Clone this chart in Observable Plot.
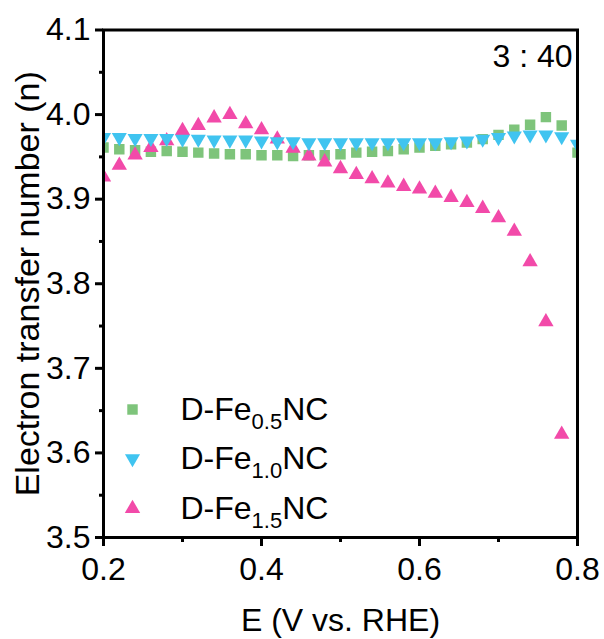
<!DOCTYPE html>
<html>
<head>
<meta charset="utf-8">
<script src="https://cdn.jsdelivr.net/npm/d3@7"></script>
<script src="https://cdn.jsdelivr.net/npm/@observablehq/plot@0.6"></script>
<style>
  body { margin: 0; background: #fff; }
  #chart svg { display: block; }
</style>
</head>
<body>
<div id="chart"></div>
<script>
// ---- data ----
const potential = [0.20, 0.22, 0.24, 0.26, 0.28, 0.30, 0.32, 0.34, 0.36, 0.38,
                   0.40, 0.42, 0.44, 0.46, 0.48, 0.50, 0.52, 0.54, 0.56, 0.58,
                   0.60, 0.62, 0.64, 0.66, 0.68, 0.70, 0.72, 0.74, 0.76, 0.78, 0.80];
const nFe05 = [3.961, 3.959, 3.958, 3.956, 3.957, 3.956, 3.955, 3.954, 3.953, 3.953,
               3.952, 3.952, 3.951, 3.952, 3.952, 3.953, 3.955, 3.956, 3.957, 3.959,
               3.961, 3.963, 3.965, 3.967, 3.971, 3.976, 3.982, 3.988, 3.997, 3.987, 3.955];
const nFe10 = [3.973, 3.973, 3.972, 3.972, 3.972, 3.971, 3.971, 3.970, 3.970, 3.970,
               3.969, 3.968, 3.968, 3.967, 3.967, 3.967, 3.967, 3.967, 3.967, 3.967,
               3.967, 3.967, 3.968, 3.969, 3.971, 3.973, 3.975, 3.976, 3.976, 3.974, 3.965];
const nFe15 = [3.926, 3.940, 3.952, 3.961, 3.969, 3.981, 3.987, 3.996, 4.000, 3.989,
               3.982, 3.971, 3.960, 3.951, 3.944, 3.936, 3.929, 3.924, 3.919, 3.915,
               3.912, 3.907, 3.902, 3.896, 3.889, 3.878, 3.862, 3.826, 3.755, 3.622];

const legendPrefix = "D-Fe";
const legendSubs = ["0.5", "1.0", "1.5"];
const legendSuffix = "NC";
const seriesColors = ["#7ec47b", "#40c4f0", "#f24aa9"];

const xTicksMajor = [0.2, 0.4, 0.6, 0.8];
const xTicksMinor = [0.3, 0.5, 0.7];
const yTicksMajor = [3.5, 3.6, 3.7, 3.8, 3.9, 4.0, 4.1];
const yTicksMinor = [3.55, 3.65, 3.75, 3.85, 3.95, 4.05];
const xLabel = "E (V vs. RHE)";
const yLabel = "Electron transfer number (n)";
const annotation = "3 : 40";

// ---- tables ----
const rows05 = nFe05.map((n, i) => ({E: potential[i], n}));
const rows10 = nFe10.map((n, i) => ({E: potential[i], n}));
const rows15 = nFe15.map((n, i) => ({E: potential[i], n}));

// downward triangle symbol
const triangleDown = {
  draw(context, size) {
    const s3 = Math.sqrt(3);
    const y = -Math.sqrt(size / (3 * s3));
    context.moveTo(0, -2 * y);
    context.lineTo(s3 * y, y);
    context.lineTo(-s3 * y, y);
    context.closePath();
  }
};
const symbols = ["square", triangleDown, "triangle"];
const radii = [5.9, 5.6, 5.7];

const legendRows = [-128, -79, -29];
const legendMarks = [];
legendSubs.forEach((sub, i) => {
  legendMarks.push(Plot.dot([0], {frameAnchor: "bottom-left", dx: 29, dy: legendRows[i],
    symbol: symbols[i], fill: seriesColors[i], r: radii[i]}));
  legendMarks.push(Plot.text([legendPrefix + sub + legendSuffix], {frameAnchor: "bottom-left",
    dx: 77, dy: legendRows[i], textAnchor: "start", lineAnchor: "middle", fontSize: 32,
    text: d => d, fill: "#000"}));
});

const chart = Plot.plot({
  width: 604,
  height: 639,
  marginLeft: 103,
  marginRight: 27,
  marginTop: 29.5,
  marginBottom: 102,
  x: {domain: [0.2, 0.8]},
  y: {domain: [3.5, 4.1]},
  style: {fontFamily: "'Liberation Sans', Arial, sans-serif", fontSize: "32px", color: "#000", background: "#fff"},
  marks: [
    Plot.axisX({ticks: xTicksMajor, tickSize: 9, tickPadding: 11, tickFormat: d => d.toFixed(1),
      fontSize: 32, stroke: "#000", strokeWidth: 3, label: xLabel, labelAnchor: "center", labelOffset: 93, labelArrow: "none"}),
    Plot.axisX({ticks: xTicksMinor, tickSize: 5, tickFormat: () => "", stroke: "#000", strokeWidth: 3, label: null}),
    Plot.axisY({ticks: yTicksMajor, tickSize: 8, tickPadding: 5, tickFormat: d => d.toFixed(1),
      fontSize: 32, stroke: "#000", strokeWidth: 3, label: null}),
    Plot.axisY({ticks: yTicksMinor, tickSize: 4, tickFormat: () => "", stroke: "#000", strokeWidth: 3,
      fontSize: 34, label: yLabel, labelAnchor: "center", labelOffset: 89, labelArrow: "none"}),
    Plot.dot(rows05, {x: "E", y: "n", symbol: symbols[0], fill: seriesColors[0], r: radii[0], clip: true}),
    Plot.dot(rows15, {x: "E", y: "n", symbol: symbols[2], fill: seriesColors[2], r: radii[2], clip: true}),
    Plot.dot(rows10, {x: "E", y: "n", symbol: symbols[1], fill: seriesColors[1], r: radii[1], clip: true}),
    Plot.frame({stroke: "#000", strokeWidth: 3}),
    ...legendMarks,
    Plot.text([annotation], {frameAnchor: "top-right", dx: -5, dy: 14, lineAnchor: "top",
      textAnchor: "end", fontSize: 32, text: d => d, fill: "#000"})
  ]
});

// subscripts in legend labels
d3.select(chart).selectAll("text").each(function () {
  const t = this.textContent;
  const sub = legendSubs.find(s => t === legendPrefix + s + legendSuffix);
  if (sub === undefined) return;
  const el = d3.select(this);
  el.text(null);
  el.append("tspan").text(legendPrefix);
  el.append("tspan").attr("dy", 9).attr("font-size", 22).text(sub);
  el.append("tspan").attr("dy", -9).text(legendSuffix);
});

document.getElementById("chart").appendChild(chart);
</script>
</body>
</html>
